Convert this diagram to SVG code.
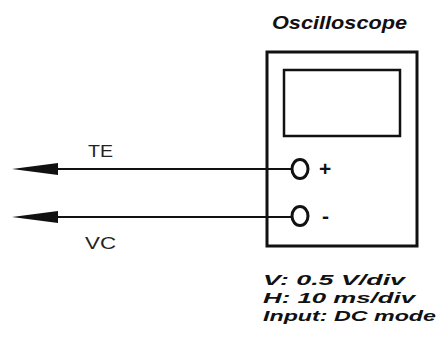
<svg xmlns="http://www.w3.org/2000/svg" width="437" height="340" viewBox="0 0 437 340">
<style>
.wire{stroke:#111;stroke-width:2.2;fill:none}
.head{fill:#111}
.box{stroke:#111;fill:none}
.lbl{font-family:"Liberation Sans",Arial,sans-serif;fill:#222;font-size:16px}
.spec{font-family:"Liberation Sans",Arial,sans-serif;font-weight:bold;font-style:italic;fill:#111;font-size:15.5px}
.title{font-family:"Liberation Sans",Arial,sans-serif;font-weight:bold;font-style:italic;fill:#111;font-size:18px}
.sign{font-family:"Liberation Sans",Arial,sans-serif;font-weight:bold;fill:#111;font-size:21px}
</style>
<rect width="437" height="340" fill="#fff"/>
<g id="connectors">
<line class="wire" x1="50" y1="169" x2="292" y2="169"/>
<path class="head" d="M12,169 L58,163 L58,175 Z"/>
<line class="wire" x1="50" y1="217" x2="292" y2="217"/>
<path class="head" d="M12,217 L58,211 L58,223 Z"/>
</g>
<g id="oscilloscope">
<text class="title" x="272" y="29" textLength="135" lengthAdjust="spacingAndGlyphs">Oscilloscope</text>
<rect class="box" x="267" y="52" width="150" height="194" stroke-width="3"/>
<rect class="box" x="284" y="70" width="116" height="66" stroke-width="2.5"/>
</g>
<g id="terminal-plus">
<ellipse cx="300" cy="169" rx="8" ry="9.5" fill="#fff" stroke="#111" stroke-width="3"/>
<text class="sign" x="319" y="176">+</text>
</g>
<g id="terminal-minus">
<ellipse cx="300" cy="216" rx="8" ry="9.5" fill="#fff" stroke="#111" stroke-width="3"/>
<text class="sign" x="322" y="223">-</text>
</g>
<g id="label-te"><text class="lbl" x="88" y="157" textLength="25" lengthAdjust="spacingAndGlyphs">TE</text></g>
<g id="label-vc"><text class="lbl" x="85" y="249" textLength="31" lengthAdjust="spacingAndGlyphs">VC</text></g>
<g id="settings">
<text class="spec" x="263" y="285" textLength="142" lengthAdjust="spacingAndGlyphs">V: 0.5 V/div</text>
<text class="spec" x="263" y="303" textLength="152" lengthAdjust="spacingAndGlyphs">H: 10 ms/div</text>
<text class="spec" x="263" y="321" textLength="173" lengthAdjust="spacingAndGlyphs">Input: DC mode</text>
</g>
</svg>
